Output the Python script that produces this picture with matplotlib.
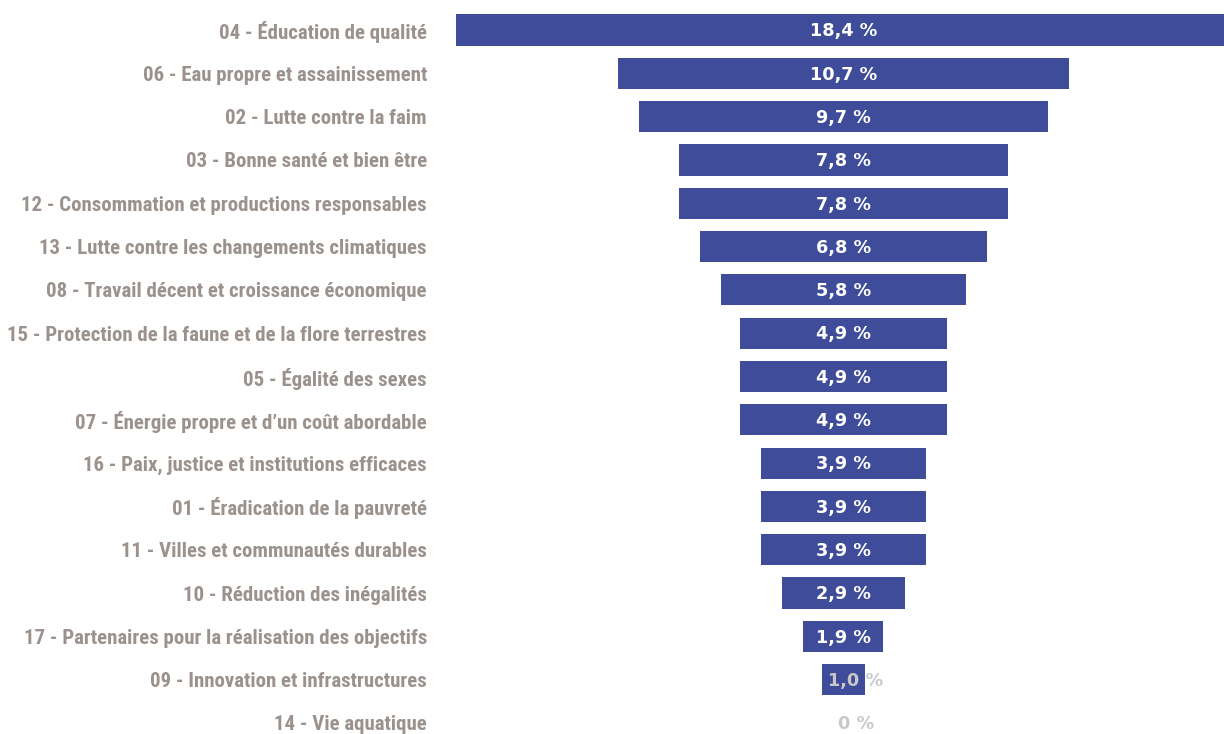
#!/usr/bin/env python3
import numpy as np
import matplotlib
matplotlib.use("Agg")
import matplotlib.pyplot as plt
from matplotlib import font_manager

labels = [
    "04 - Éducation de qualité",
    "06 - Eau propre et assainissement",
    "02 - Lutte contre la faim",
    "03 - Bonne santé et bien être",
    "12 - Consommation et productions responsables",
    "13 - Lutte contre les changements climatiques",
    "08 - Travail décent et croissance économique",
    "15 - Protection de la faune et de la flore terrestres",
    "05 - Égalité des sexes",
    "07 - Énergie propre et d\u2019un coût abordable",
    "16 - Paix, justice et institutions efficaces",
    "01 - Éradication de la pauvreté",
    "11 - Villes et communautés durables",
    "10 - Réduction des inégalités",
    "17 - Partenaires pour la réalisation des objectifs",
    "09 - Innovation et infrastructures",
    "14 - Vie aquatique",
]
values = [18.4, 10.7, 9.7, 7.8, 7.8, 6.8, 5.8, 4.9, 4.9, 4.9, 3.9, 3.9, 3.9, 2.9, 1.9, 1.0, 0.0]

names = sorted({f.name for f in font_manager.fontManager.ttflist})
narrow = [n for n in ["Roboto Condensed", "Liberation Sans Narrow", "DejaVu Sans Condensed", "Roboto"] if n in names]
lab_font = narrow[0] if narrow else "DejaVu Sans"

bar_col = "#3f4c9a"
lab_col = "#9b928d"

fig = plt.figure(figsize=(12.24, 7.34), dpi=100)
ax = fig.add_axes([440 / 1224, 0, 1 - 440 / 1224, 1])

y = np.arange(len(values))
v = np.array(values)
ax.barh(y, v, left=-v / 2, height=0.72, color=bar_col)

ax.set_xlim(-9.584, 9.038)
ax.set_ylim(16.254, -0.693)
ax.set_yticks(y)
ax.set_yticklabels(labels, fontsize=15, color=lab_col, fontweight="bold", family=lab_font)
ax.tick_params(axis="y", length=0, pad=9.4)
ax.set_xticks([])
for s in ax.spines.values():
    s.set_visible(False)

for i, val in enumerate(values):
    txt = ("%.1f" % val).replace(".", ",") + " %" if val > 0 else "0 %"
    if val >= 1.5:
        ax.text(0, i + 0.03, txt, ha="center", va="center", color="white",
                fontsize=12.7, fontweight="heavy", family="DejaVu Sans")
    else:
        ax.annotate(txt, (0, i + 0.03), xytext=(9, 0), textcoords="offset points",
                    ha="center", va="center", color="#c8c8c8",
                    fontsize=12.7, fontweight="heavy", family="DejaVu Sans")

fig.savefig("out.png", dpi=100)
